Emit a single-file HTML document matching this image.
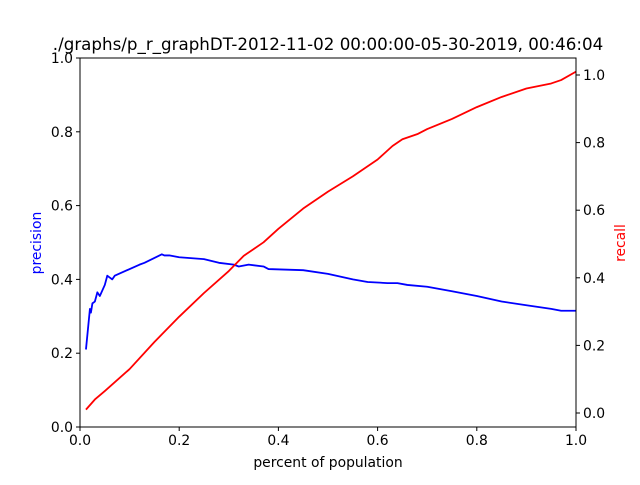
<!DOCTYPE html>
<html><head><meta charset="utf-8"><style>
body{margin:0;background:#fff}
svg{font-family:"DejaVu Sans","Liberation Sans",sans-serif}
</style></head><body>
<svg id="chart" width="640" height="480">
<rect width="640" height="480" fill="#fff"/>
</svg>
<script>
const xTicks=[0,0.2,0.4,0.6,0.8,1.0];
const xTickLabels=["0.0","0.2","0.4","0.6","0.8","1.0"];
const yTicks=[0,0.2,0.4,0.6,0.8,1.0];
const yTickLabels=["0.0","0.2","0.4","0.6","0.8","1.0"];
const y2Ticks=[0,0.2,0.4,0.6,0.8,1.0];
const y2TickLabels=["0.0","0.2","0.4","0.6","0.8","1.0"];
const precX=[0.012,0.02,0.022,0.025,0.03,0.035,0.04,0.05,0.055,0.06,0.065,0.07,0.12,0.13,0.165,0.17,0.18,0.2,0.25,0.28,0.31,0.32,0.34,0.37,0.38,0.45,0.5,0.55,0.58,0.62,0.64,0.66,0.7,0.75,0.8,0.85,0.9,0.95,0.97,1.0];
const precY=[0.21,0.32,0.31,0.335,0.34,0.365,0.355,0.385,0.41,0.405,0.40,0.41,0.44,0.445,0.468,0.465,0.465,0.46,0.455,0.445,0.44,0.435,0.44,0.435,0.428,0.425,0.415,0.40,0.393,0.39,0.39,0.385,0.38,0.368,0.355,0.34,0.33,0.32,0.315,0.315];
const recX=[0.012,0.03,0.05,0.1,0.15,0.2,0.25,0.3,0.33,0.35,0.37,0.4,0.45,0.5,0.55,0.6,0.63,0.65,0.68,0.7,0.75,0.8,0.85,0.9,0.95,0.97,1.0];
const recY=[0.01,0.04,0.065,0.13,0.21,0.285,0.355,0.42,0.465,0.485,0.505,0.545,0.605,0.655,0.70,0.75,0.79,0.81,0.825,0.84,0.87,0.905,0.935,0.96,0.975,0.985,1.01];
const L=80,R=576,T=58,B=427;
const sx=v=>L+(R-L)*v;
const sy=v=>B-(B-T)*v;
const sy2=v=>413-338*v;
const svg=document.getElementById('chart');
const NS='http://www.w3.org/2000/svg';
function mk(tag,attrs,txt){const e=document.createElementNS(NS,tag);for(const k in attrs)e.setAttribute(k,attrs[k]);if(txt!==undefined)e.textContent=txt;svg.appendChild(e);return e;}
let e;
e=mk('polyline',{points:precX.map((x,i)=>sx(x)+','+sy(precY[i])).join(' '),fill:'none',stroke:'#0000ff','stroke-width':1.8,'stroke-linejoin':'round'});


e=mk('polyline',{points:recX.map((x,i)=>sx(x)+','+sy2(recY[i])).join(' '),fill:'none',stroke:'#ff0000','stroke-width':1.8,'stroke-linejoin':'round'});


e=mk('rect',{x:L,y:T,width:R-L,height:B-T,fill:'none',stroke:'#000','stroke-width':1});


xTicks.forEach((v,i)=>{mk('line',{x1:sx(v),x2:sx(v),y1:B,y2:B+4,stroke:'#000'});
e=mk('text',{x:sx(v),y:B+18,'font-size':13.9,'text-anchor':'middle'},xTickLabels[i]);

});
yTicks.forEach((v,i)=>{mk('line',{x1:L-4,x2:L,y1:sy(v),y2:sy(v),stroke:'#000'});
e=mk('text',{x:L-7,y:sy(v)+5,'font-size':13.9,'text-anchor':'end'},yTickLabels[i]);

});
y2Ticks.forEach((v,i)=>{mk('line',{x1:R,x2:R+4,y1:sy2(v),y2:sy2(v),stroke:'#000'});
e=mk('text',{x:R+7,y:sy2(v)+5,'font-size':13.9,'text-anchor':'start'},y2TickLabels[i]);

});
e=mk('text',{x:328,y:467,'font-size':13.9,'text-anchor':'middle'},'percent of population');


e=mk('text',{x:41,y:243,'font-size':13.9,'text-anchor':'middle',fill:'#0000ff',transform:'rotate(-90 41 243)'},'precision');


e=mk('text',{x:625,y:243,'font-size':13.9,'text-anchor':'middle',fill:'#ff0000',transform:'rotate(-90 625 243)'},'recall');


e=mk('text',{x:328,y:50,'font-size':16.7,'text-anchor':'middle'},'./graphs/p_r_graphDT-2012-11-02 00:00:00-05-30-2019, 00:46:04');


</script>
</body></html>
